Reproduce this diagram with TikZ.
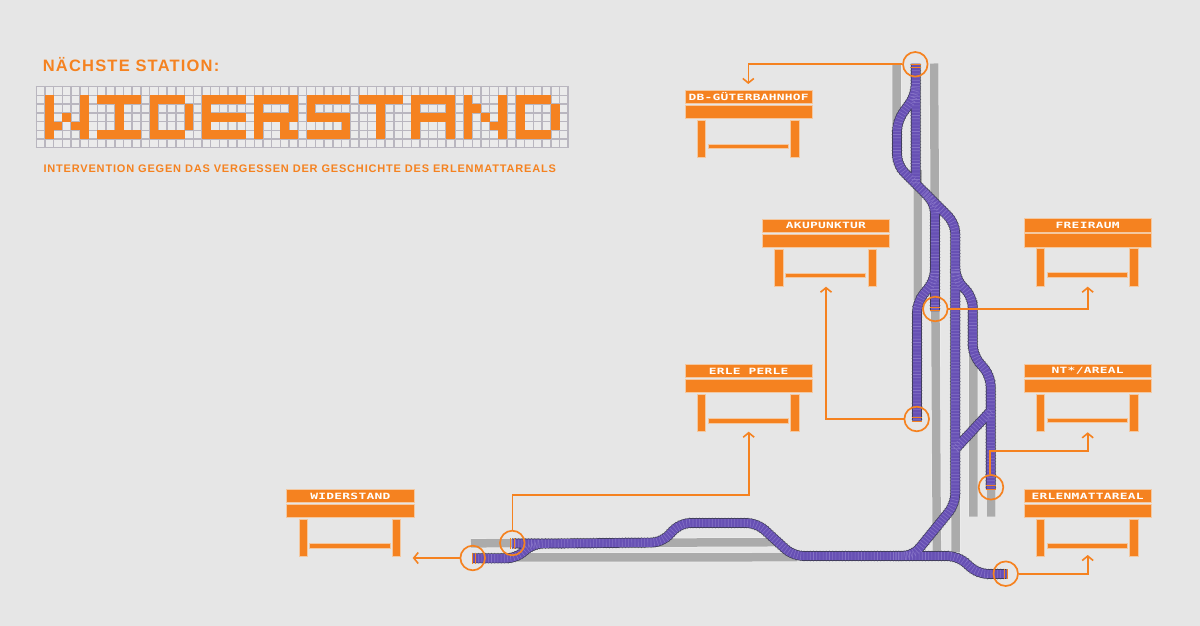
\documentclass[tikz,border=0pt]{standalone}
\usepackage{fontspec}
\setmainfont{Liberation Sans}
\newfontfamily\headfont[LetterSpace=7.2]{Liberation Sans}
\newfontfamily\subfont[LetterSpace=7.5]{Liberation Sans}
\newfontfamily\pixfont[FakeStretch=1.5,LetterSpace=3]{DejaVu Sans Mono}
\usetikzlibrary{arrows.meta}
\definecolor{bgc}{HTML}{E6E6E6}
\definecolor{org}{HTML}{F58220}
\definecolor{orghalo}{HTML}{F4C8A0}
\definecolor{grid}{HTML}{B9B6BF}
\definecolor{cell}{HTML}{EBEBEB}
\definecolor{rail}{HTML}{ABABAB}
\definecolor{railhalo}{HTML}{EEEEEE}
\definecolor{purp}{HTML}{6750B4}
\definecolor{purpl}{HTML}{8572C6}
\definecolor{pdark}{HTML}{3B3A50}
\definecolor{ptick}{HTML}{77778A}
\tikzset{
  x=1pt,y=-1pt,
  benchbar/.style={rectangle,fill=org,draw=orghalo,line width=.6pt,inner sep=0pt,outer sep=0pt,text=white},
  stopcirc/.style={circle,draw=org,line width=1.7pt,minimum size=24.6pt,inner sep=0pt},
  conn/.style={draw=org,line width=1.6pt,-{Straight Barb[length=4.5pt,width=11pt,line width=1.6pt]}},
  endtick/.style={draw=org,line width=1pt},
}
\newcommand{\benchpic}[4]{%
  \node[benchbar,minimum width=127.3pt,minimum height=13.3pt] (#1-a) at (#2+63.65,#3+6.65) {\pixfont\bfseries\fontsize{8.6}{9}\selectfont #4};
  \node[benchbar,minimum width=127.3pt,minimum height=13.3pt] (#1-b) at (#2+63.65,#3+21.65) {};
  \node[benchbar,minimum width=8.4pt,minimum height=37.3pt] (#1-l) at (#2+16.5,#3+48.65) {};
  \node[benchbar,minimum width=8.4pt,minimum height=37.3pt] (#1-r) at (#2+109.85,#3+48.65) {};
  \node[benchbar,minimum width=80.3pt,minimum height=4.7pt] (#1-s) at (#2+63.15,#3+56.35) {};
}
\newcommand{\railpaths}{%
  (896.5,63.5)--(896.5,125)
  (934,63.5)--(936.8,551)
  (917.8,170)--(917.8,300)
  (955.7,230)--(955.7,552)
  (973.3,300)--(973.3,516.7)
  (991,400)--(991,516.7)
  (471,543.3)--(780,542.2)
  (500,557.5)--(797,557.2)
}
\newcommand{\trackpaths}{%
  [rounded corners=10pt]
  (472,558.3)--(517,558.3)--(532,543.7)--(662,542.5)--(680,523)--(757,523)--(793,556)--(958,556)--(978,574)--(1006.5,574)
  (512,543.5)--(540,543.5)
  (895,556)--(913,556)--(955.3,504)--(955.3,223.4)--(897,165)--(897,121)--(915.7,95)--(915.7,85)
  (915.7,64)--(915.7,184)
  (925,193)--(935,203)--(935,311)
  (935,270)--(935,280)--(917,302)--(917,420.5)
  (955.3,272)--(955.3,279)--(972.7,297)--(972.7,355)--(990.7,376)--(990.7,489)
  (955.3,449)--(990.7,411)
}
\newcommand{\boardcells}{1/1/1/5,5/1/1/5,3/3/1/1,2/4/1/1,4/4/1/1,
  7/1/5/1,7/5/5/1,9/1/1/5,
  13/1/4/1,13/5/4/1,13/1/1/5,17/2/1/3,
  19/1/5/1,19/3/5/1,19/5/5/1,19/1/1/5,
  25/1/5/1,25/3/5/1,25/1/1/5,29/1/1/3,28/4/1/2,29/5/1/1,
  31/1/5/1,31/3/5/1,31/5/5/1,31/1/1/3,35/3/1/3,
  37/1/5/1,39/1/1/5,
  43/1/5/1,43/3/5/1,43/1/1/5,47/1/1/5,
  49/1/1/5,53/1/1/5,50/2/1/1,51/3/1/1,52/4/1/1,
  55/1/4/1,55/5/4/1,55/1/1/5,59/2/1/3}
\begin{document}
\begin{tikzpicture}[line cap=butt]
\useasboundingbox (0,0) rectangle (1200,626);
\fill[bgc] (0,0) rectangle (1200,626);

% heading
\node[anchor=base west,inner sep=0pt,text=org] (head) at (42.7,71) {\headfont\bfseries\fontsize{16.5}{17}\selectfont NÄCHSTE STATION:};
\node[anchor=base west,inner sep=0pt,text=org] (sub) at (43.3,172.9) {\subfont\bfseries\fontsize{11}{12}\selectfont INTERVENTION GEGEN DAS VERGESSEN DER GESCHICHTE DES ERLENMATTAREALS};

% pixel board
\fill[cell] (36.3,86.7) rectangle (568.2,147.7);
\foreach \i in {0,...,61}
  \draw[grid,line width=1.5pt] ({36.3+8.72*\i},86) -- ({36.3+8.72*\i},148.4);
\foreach \i in {0,...,7}
  \draw[grid,line width=1.5pt] (35.6,{86.7+8.72*\i}) -- (568.9,{86.7+8.72*\i});
\foreach \c/\r/\w/\h in \boardcells
  \fill[org] ({36.3+8.72*\c},{86.7+8.72*\r}) rectangle ({36.3+8.72*(\c+\w)},{86.7+8.72*(\r+\h)});

% grey rails
\draw[railhalo,line width=10pt] \railpaths;
\draw[rail,line width=8.5pt] \railpaths;

% purple tracks
\draw[ptick,line width=10.8pt,dash pattern=on .7pt off 2.5pt] \trackpaths;
\draw[pdark,line width=9.7pt] \trackpaths;
\draw[purp,line width=8.4pt] \trackpaths;
\draw[purpl,line width=8.4pt,dash pattern=on .6pt off 2.6pt] \trackpaths;

% track end marks
\draw[endtick] (910.7,64.3)--(920.7,64.3) (910.7,67.3)--(920.7,67.3);
\draw[endtick] (930,307.3)--(940,307.3) (930,310.7)--(940,310.7);
\draw[endtick] (911.5,417.3)--(922,417.3) (911.5,421)--(922,421);
\draw[endtick] (985.5,485.7)--(996,485.7) (985.5,489)--(996,489);
\draw[endtick] (1004,569)--(1004,579) (1007,569)--(1007,579);
\draw[endtick] (472,553)--(472,563.5) (475.3,553)--(475.3,563.5);
\draw[endtick] (510.7,538)--(510.7,548.5) (514,538)--(514,548.5);

% benches
\benchpic{db}{685}{90}{DB-GÜTERBAHNHOF}
\benchpic{aku}{762.3}{219}{AKUPUNKTUR}
\benchpic{erle}{685}{364.3}{ERLE PERLE}
\benchpic{frei}{1024}{218.7}{FREIRAUM}
\benchpic{nt}{1024}{364}{NT*/AREAL}
\benchpic{area}{1024}{489.3}{ERLENMATTAREAL}
\benchpic{wid}{286.7}{489.3}{WIDERSTAND}

% stops
\node[stopcirc] (c1) at (915.3,64.3) {};
\node[stopcirc] (c2) at (935.3,309) {};
\node[stopcirc] (c3) at (916.7,419) {};
\node[stopcirc] (c4) at (991,487.3) {};
\node[stopcirc] (c5) at (1005.7,573.7) {};
\node[stopcirc] (c6) at (472.7,558) {};
\node[stopcirc] (c7) at (512.3,543) {};

% connector ends
\coordinate (t1) at (748.3,84);
\coordinate (t2) at (1087.7,286.7);
\coordinate (t3) at (826,286.7);
\coordinate (t4) at (1087.7,432.3);
\coordinate (e4) at (990,450.7);
\coordinate (t5) at (1087.7,555);
\coordinate (t6) at (412.7,558);
\coordinate (t7) at (748.7,431.7);
\coordinate (e7) at (512.3,495);

\draw[conn] (c1.west) -| (t1);
\draw[conn] (c2.east) -| (t2);
\draw[conn] (c3.west) -| (t3);
\draw[conn] (c4.north -| e4) |- (e4) -| (t4);
\draw[conn] (c5.east) -| (t5);
\draw[conn] (c6.west) -- (t6);
\draw[conn] (c7.north) |- (e7) -| (t7);
\end{tikzpicture}
\end{document}
